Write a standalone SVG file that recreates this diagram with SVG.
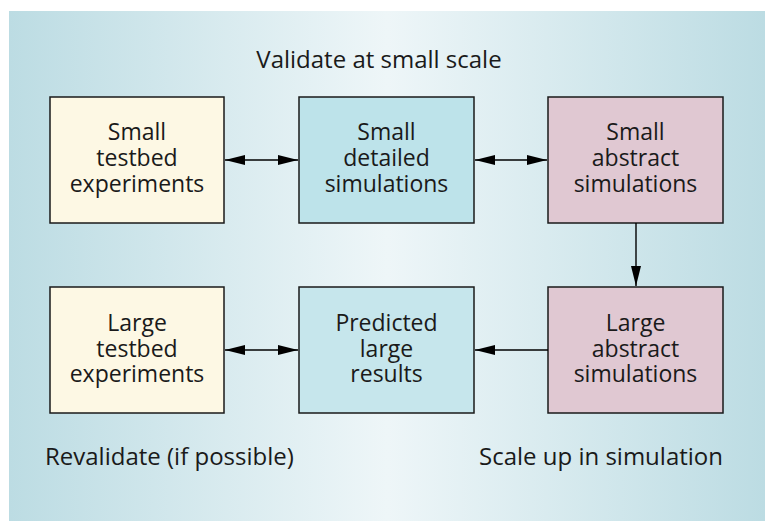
<svg xmlns="http://www.w3.org/2000/svg" width="765" height="521" viewBox="0 0 765 521">
<defs>
<linearGradient id="bg" x1="0" y1="0" x2="1" y2="0">
<stop offset="0" stop-color="#bcdce3"/>
<stop offset="0.5" stop-color="#eef6f8"/>
<stop offset="1" stop-color="#bcdce3"/>
</linearGradient>
<marker id="ah" viewBox="0 0 20 10" refX="20" refY="5" markerWidth="20" markerHeight="10" markerUnits="userSpaceOnUse" orient="auto-start-reverse">
<path d="M0,0 L20,5 L0,10 Z" fill="#000"/>
</marker>
</defs>
<style>
.box{stroke:#1a1a1a;stroke-width:1.5}
.tb{fill:#fdf8e4}
.sd{fill:#bde3ea}
.ab{fill:#e0c8d2}
.pr{fill:#c6e6ec}
text{font-family:"Open Sans","Liberation Sans",sans-serif;font-size:24px;fill:#1a1a1a}
.c{text-anchor:middle;font-size:23px}
.lbl{font-size:24px}
.conn{stroke:#000;stroke-width:1.4;fill:none}
</style>
<rect x="0" y="0" width="765" height="521" fill="#ffffff"/>
<rect x="9" y="11" width="756" height="510" fill="url(#bg)"/>
<text class="lbl" x="379" y="68" text-anchor="middle">Validate at small scale</text>
<g id="small-testbed">
<rect class="box tb" x="50" y="97" width="174" height="126"/>
<text class="c" x="137" y="140">Small</text>
<text class="c" x="137" y="166">testbed</text>
<text class="c" x="137" y="192">experiments</text>
</g>
<g id="small-detailed">
<rect class="box sd" x="299" y="97" width="175" height="126"/>
<text class="c" x="386.5" y="140">Small</text>
<text class="c" x="386.5" y="166">detailed</text>
<text class="c" x="386.5" y="192">simulations</text>
</g>
<g id="small-abstract">
<rect class="box ab" x="548" y="97" width="175" height="126"/>
<text class="c" x="635.5" y="140">Small</text>
<text class="c" x="635.5" y="166">abstract</text>
<text class="c" x="635.5" y="192">simulations</text>
</g>
<g id="large-testbed">
<rect class="box tb" x="50" y="287" width="174" height="126"/>
<text class="c" x="137" y="331">Large</text>
<text class="c" x="137" y="357">testbed</text>
<text class="c" x="137" y="382">experiments</text>
</g>
<g id="predicted">
<rect class="box pr" x="299" y="287" width="175" height="126"/>
<text class="c" x="386.5" y="331">Predicted</text>
<text class="c" x="386.5" y="357">large</text>
<text class="c" x="386.5" y="382">results</text>
</g>
<g id="large-abstract">
<rect class="box ab" x="548" y="287" width="175" height="126"/>
<text class="c" x="635.5" y="331">Large</text>
<text class="c" x="635.5" y="357">abstract</text>
<text class="c" x="635.5" y="382">simulations</text>
</g>
<g id="connectors">
<line class="conn" x1="225" y1="160" x2="298" y2="160" marker-start="url(#ah)" marker-end="url(#ah)"/>
<line class="conn" x1="475" y1="160" x2="547" y2="160" marker-start="url(#ah)" marker-end="url(#ah)"/>
<line class="conn" x1="636" y1="223" x2="636" y2="286" marker-end="url(#ah)"/>
<line class="conn" x1="548" y1="350" x2="475" y2="350" marker-end="url(#ah)"/>
<line class="conn" x1="225" y1="350" x2="298" y2="350" marker-start="url(#ah)" marker-end="url(#ah)"/>
</g>
<text class="lbl" x="45" y="465">Revalidate (if possible)</text>
<text class="lbl" x="723" y="465" text-anchor="end">Scale up in simulation</text>
</svg>
